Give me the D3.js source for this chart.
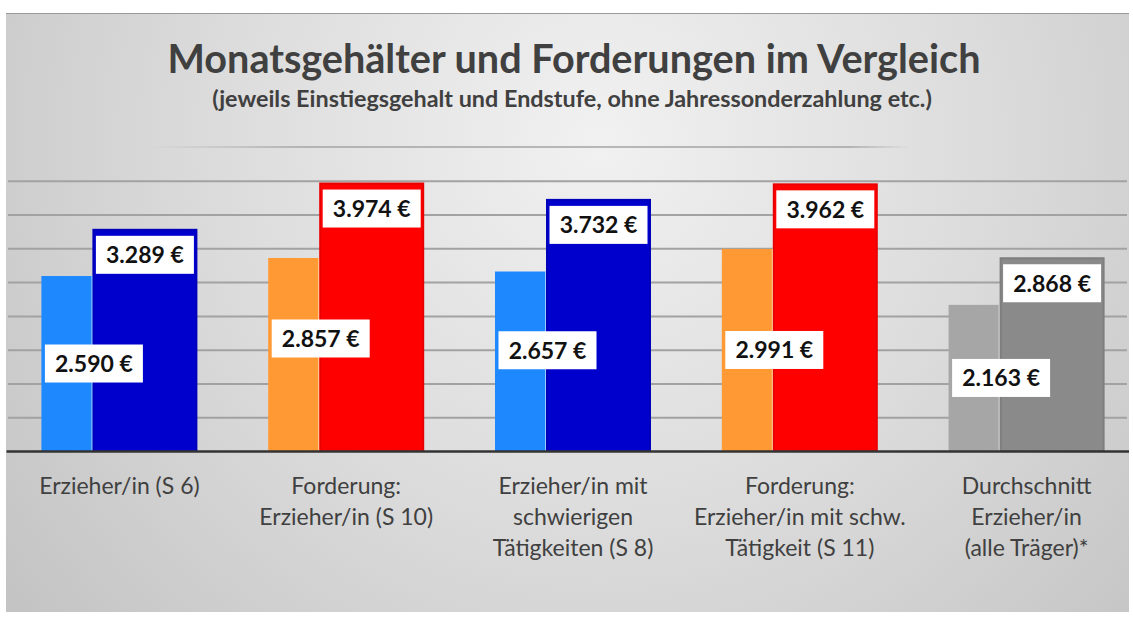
<!DOCTYPE html>
<html>
<head>
<meta charset="utf-8">
<script src="https://cdn.jsdelivr.net/npm/d3@7"></script>
<style>
  body { margin: 0; background: #fff; }
  svg { display: block; }
</style>
</head>
<body>
<svg></svg>
<script>
// Kategorien (mehrzeilig wie im Original)
const categories = [
    ['Erzieher/in (S 6)'],
    ['Forderung:', 'Erzieher/in (S 10)'],
    ['Erzieher/in mit', 'schwierigen', 'Tätigkeiten (S 8)'],
    ['Forderung:', 'Erzieher/in mit schw.', 'Tätigkeit (S 11)'],
    ['Durchschnitt', 'Erzieher/in', '(alle Träger)*'],
];
const einstieg = [2590, 2857, 2657, 2991, 2163];
const endstufe = [3289, 3974, 3732, 3962, 2868];

const einstiegColors = ['#1e88ff', '#ff9933', '#1e88ff', '#ff9933', '#a6a6a6'];
const endstufeColors = ['#0000cc', '#ff0000', '#0000cc', '#ff0000', '#8a8a8a'];
// manuell verschobene Beschriftungen (px, wie im Original)
const einstiegLabelShift = [0, -16, -11, 0, 0];

const title = 'Monatsgehälter und Forderungen im Vergleich';
const subtitle = '(jeweils Einstiegsgehalt und Endstufe, ohne Jahressonderzahlung etc.)';

const svgWidth = 1133;
const svgHeight = 619;
const frame = { left: 6, top: 13, right: 1129, bottom: 612 };
const baseY = 451;

const svg = d3.select('svg')
    .attr('width', svgWidth)
    .attr('height', svgHeight);

const defs = svg.append('defs');
const bg = defs.append('radialGradient')
    .attr('id', 'bg')
    .attr('gradientUnits', 'userSpaceOnUse')
    .attr('cx', 600).attr('cy', 140).attr('r', 760);
bg.append('stop').attr('offset', 0).attr('stop-color', '#f1f1f1');
bg.append('stop').attr('offset', 0.5).attr('stop-color', '#dcdcdc');
bg.append('stop').attr('offset', 1).attr('stop-color', '#c3c3c3');

const topLine = defs.append('linearGradient')
    .attr('id', 'topline')
    .attr('gradientUnits', 'userSpaceOnUse')
    .attr('x1', 150).attr('x2', 910).attr('y1', 0).attr('y2', 0);
topLine.append('stop').attr('offset', 0).attr('stop-color', '#a8a8a8').attr('stop-opacity', 0);
topLine.append('stop').attr('offset', 0.2).attr('stop-color', '#a8a8a8').attr('stop-opacity', 0.8);
topLine.append('stop').attr('offset', 0.92).attr('stop-color', '#a8a8a8').attr('stop-opacity', 0.8);
topLine.append('stop').attr('offset', 1).attr('stop-color', '#a8a8a8').attr('stop-opacity', 0);

defs.append('clipPath').attr('id', 'clip')
    .append('rect')
    .attr('x', frame.left).attr('y', frame.top)
    .attr('width', frame.right - frame.left)
    .attr('height', frame.bottom - frame.top);

// Hintergrund
svg.append('rect')
    .attr('x', frame.left).attr('y', frame.top)
    .attr('width', frame.right - frame.left)
    .attr('height', frame.bottom - frame.top)
    .attr('fill', 'url(#bg)');
svg.append('line')
    .attr('x1', frame.left).attr('x2', frame.right)
    .attr('y1', frame.top + 0.5).attr('y2', frame.top + 0.5)
    .attr('stroke', '#9a9a9a').attr('stroke-width', 1);

const chart = svg.append('g').attr('clip-path', 'url(#clip)');

const xScale = d3.scaleBand()
    .domain(d3.range(categories.length))
    .range([6, 1140]);

const yScale = d3.scaleLinear()
    .domain([0, 4500])
    .range([baseY, 147]);

const yTicks = yScale.ticks(9);

// Gitternetzlinien
const grid = chart.append('g')
    .attr('transform', `translate(${frame.left + 2}, 0)`)
    .call(d3.axisLeft(yScale)
        .tickValues(yTicks.slice(1, -1))
        .tickSize(-(frame.right - frame.left - 4))
        .tickFormat(''));
grid.select('.domain').remove();
grid.selectAll('.tick line')
    .attr('stroke', '#a2a2a2')
    .attr('stroke-width', 2);

chart.append('line')
    .attr('x1', 150).attr('x2', 910)
    .attr('y1', yScale(yTicks[yTicks.length - 1]))
    .attr('y2', yScale(yTicks[yTicks.length - 1]))
    .attr('stroke', 'url(#topline)')
    .attr('stroke-width', 2);

// Balken
const barW = 105;
const shift = 51;
const groupW = barW + shift;
const cx = i => xScale(i) + xScale.bandwidth() / 2;

chart.selectAll('rect.einstieg')
    .data(einstieg)
    .enter()
    .append('rect')
    .attr('class', 'einstieg')
    .attr('x', (d, i) => cx(i) - groupW / 2)
    .attr('y', d => yScale(d))
    .attr('width', barW)
    .attr('height', d => baseY - yScale(d))
    .attr('fill', (d, i) => einstiegColors[i]);

chart.selectAll('rect.endstufe')
    .data(endstufe)
    .enter()
    .append('rect')
    .attr('class', 'endstufe')
    .attr('x', (d, i) => cx(i) - groupW / 2 + shift + 1)
    .attr('y', d => yScale(d) + 1)
    .attr('width', barW - 2)
    .attr('height', d => baseY - yScale(d) - 1)
    .attr('fill', (d, i) => endstufeColors[i])
    .attr('stroke', (d, i) => d3.color(endstufeColors[i]).darker(0.25))
    .attr('stroke-width', 2);

chart.selectAll('line.sep')
    .data(endstufe)
    .enter()
    .append('line')
    .attr('class', 'sep')
    .attr('x1', (d, i) => cx(i) - groupW / 2 + shift - 0.5)
    .attr('x2', (d, i) => cx(i) - groupW / 2 + shift - 0.5)
    .attr('y1', (d, i) => yScale(Math.min(d, einstieg[i])))
    .attr('y2', baseY)
    .attr('stroke', 'rgba(255,255,255,0.55)')
    .attr('stroke-width', 1);

// Achse
const xAxis = chart.append('g')
    .attr('transform', `translate(0, ${baseY})`)
    .call(d3.axisBottom(xScale).tickSize(0).tickFormat(''));
xAxis.select('.domain')
    .attr('stroke', '#333')
    .attr('stroke-width', 2.5);

xAxis.selectAll('.tick')
    .append('text')
    .attr('fill', '#404040')
    .attr('font-family', 'Lato, sans-serif')
    .attr('font-size', '23px')
    .attr('text-anchor', 'middle')
    .each(function (d) {
        d3.select(this).selectAll('tspan')
            .data(categories[d])
            .enter()
            .append('tspan')
            .attr('x', 0)
            .attr('y', (t, j) => 43 + j * 31)
            .text(t => t);
    });

// Datenbeschriftungen
const boxW = 98;
const boxH = 38;

function addLabel(x, yMid, value) {
    const g = chart.append('g').attr('transform', `translate(${x}, ${yMid})`);
    g.append('rect')
        .attr('x', -boxW / 2).attr('y', -boxH / 2)
        .attr('width', boxW).attr('height', boxH)
        .attr('fill', '#fff');
    g.append('text')
        .attr('text-anchor', 'middle')
        .attr('dy', '0.36em')
        .attr('font-family', 'Lato, sans-serif')
        .attr('font-weight', 'bold')
        .attr('font-size', '23px')
        .attr('fill', '#111')
        .text(d3.format(',')(value).replace(',', '.') + ' €');
}

einstieg.forEach((d, i) => {
    const x = cx(i) - groupW / 2 + barW / 2;
    const yMid = (yScale(d) + baseY) / 2 + einstiegLabelShift[i];
    addLabel(x, yMid, d);
});
endstufe.forEach((d, i) => {
    const x = cx(i) - groupW / 2 + shift + barW / 2;
    addLabel(x, yScale(d) + 7 + boxH / 2, d);
});

// Titel
function fitText(sel, target) {
    const w = sel.node().getComputedTextLength();
    const fs = parseFloat(sel.attr('font-size'));
    sel.attr('font-size', (fs * target / w).toFixed(2) + 'px');
}

const t1 = svg.append('text')
    .attr('x', 574).attr('y', 73)
    .attr('text-anchor', 'middle')
    .attr('font-family', 'Lato, sans-serif')
    .attr('font-weight', 'bold')
    .attr('font-size', '35px')
    .attr('fill', '#404040')
    .text(title);
fitText(t1, 813);

const t2 = svg.append('text')
    .attr('x', 572).attr('y', 107)
    .attr('text-anchor', 'middle')
    .attr('font-family', 'Lato, sans-serif')
    .attr('font-weight', 'bold')
    .attr('font-size', '18px')
    .attr('fill', '#404040')
    .text(subtitle);
fitText(t2, 720);
</script>
</body>
</html>
